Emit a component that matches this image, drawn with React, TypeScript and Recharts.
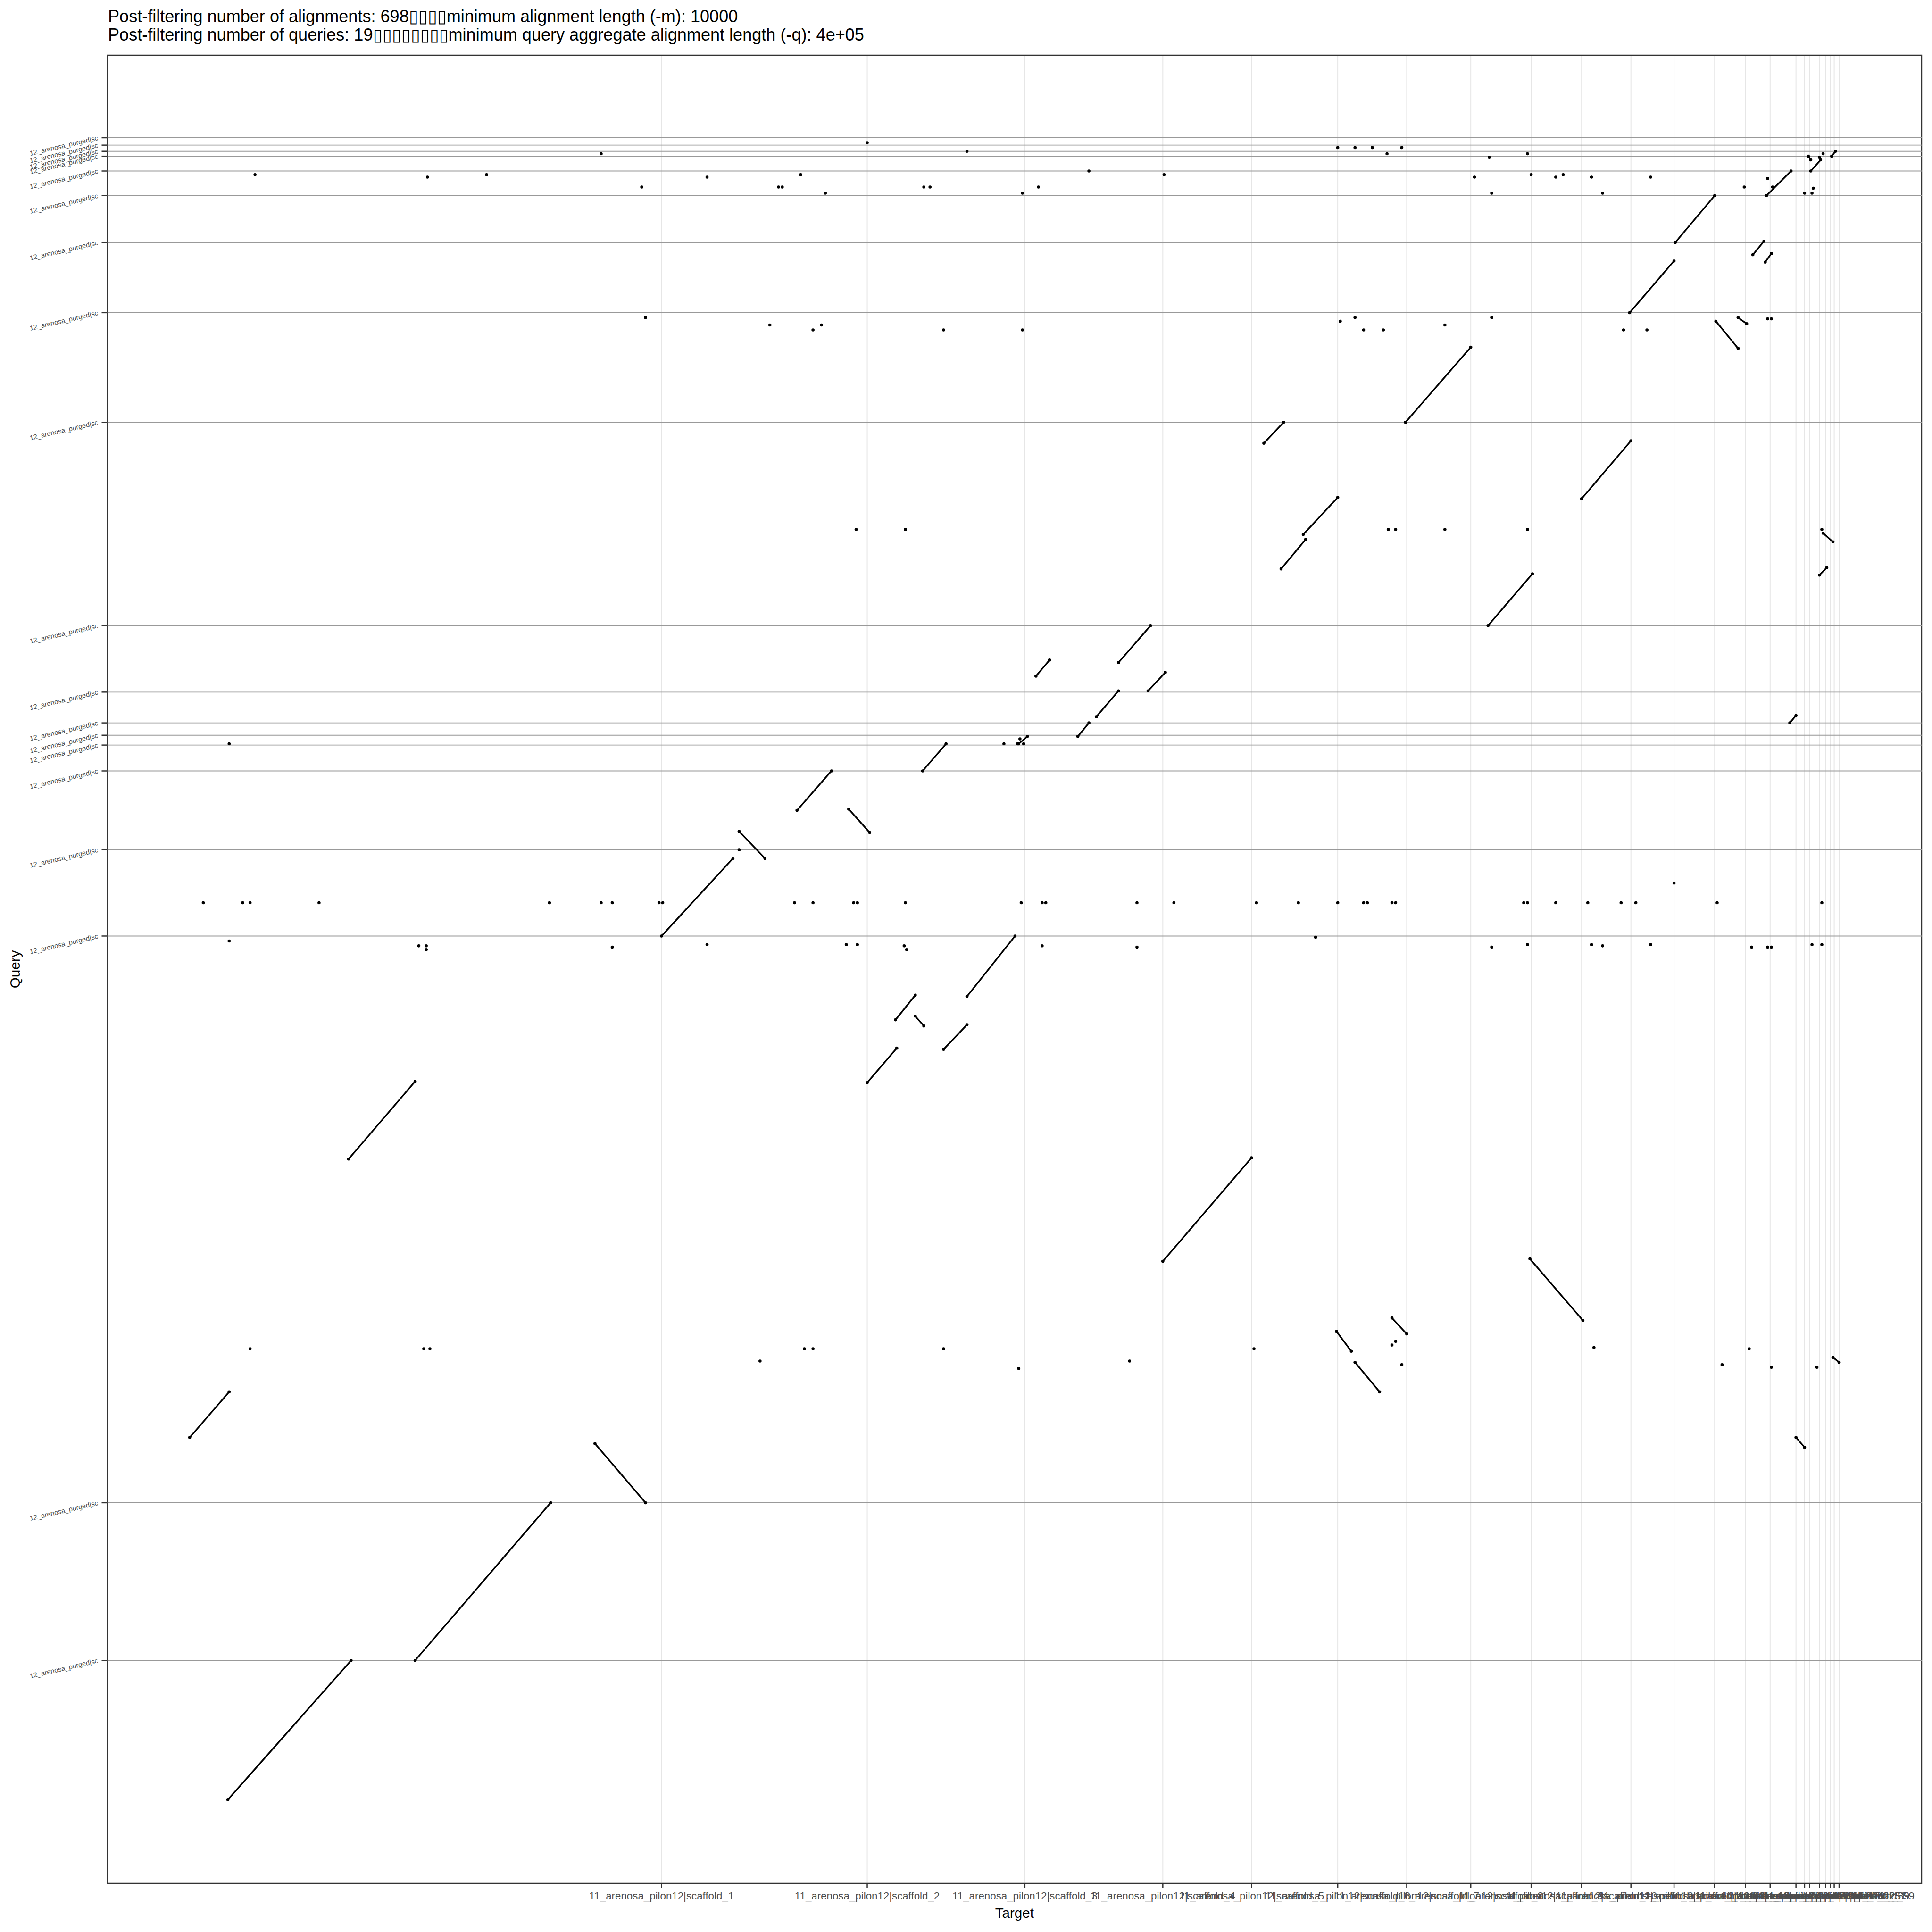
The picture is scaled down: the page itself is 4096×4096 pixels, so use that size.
import React from "react";
import {
  ComposedChart,
  Scatter,
  XAxis,
  YAxis,
  CartesianGrid,
  ReferenceLine,
  ReferenceArea,
} from "recharts";

// positions in Mb along the concatenated target (x) and query (y)
const xBreaks = [
  38.3, 55.0, 67.8, 79.0, 86.2, 93.2, 98.8, 104.0, 108.9, 113.0, 117.0, 120.5,
  123.8, 126.3, 128.3, 130.4, 131.1, 131.5, 132.3, 132.8, 133.2, 133.5, 133.9,
];
const xNames = [
  "1", "2", "3", "4", "5", "6", "7", "8", "9", "10", "11", "12", "13", "14",
  "15", "16", "17", "19", "22", "25", "31", "39", "59",
].map((n) => "11_arenosa_pilon12|scaffold_" + n);

const yBreaks = [
  11.3, 24.1, 70.1, 77.1, 83.5, 85.6, 86.4, 87.4, 89.9, 95.3, 111.8, 120.7,
  126.4, 130.2, 132.2, 133.4, 133.8, 134.3, 134.9,
];
const yNames = yBreaks.map(() => "12_arenosa_purged|sc");

// [targetStart, queryStart, targetEnd, queryEnd]
const alignments: [number, number, number, number][] = [
  [3.1, 0.0, 13.1, 11.3],
  [18.3, 11.3, 29.3, 24.1],
  [32.9, 28.9, 37.0, 24.1],
  [0.0, 29.4, 3.2, 33.1],
  [12.9, 52.0, 18.3, 58.3],
  [79.0, 43.7, 86.2, 52.1],
  [108.8, 43.9, 113.1, 38.9],
  [130.4, 29.4, 131.1, 28.6],
  [93.1, 38.0, 94.3, 36.4],
  [94.6, 35.5, 96.6, 33.1],
  [97.6, 39.1, 98.8, 37.8],
  [133.4, 35.9, 133.9, 35.5],
  [55.0, 58.2, 57.4, 61.0],
  [57.3, 63.3, 58.9, 65.3],
  [58.9, 63.6, 59.6, 62.8],
  [61.2, 60.9, 63.1, 62.9],
  [63.1, 65.2, 67.0, 70.1],
  [38.3, 70.1, 44.1, 76.4],
  [44.6, 78.6, 46.7, 76.4],
  [49.3, 80.3, 52.1, 83.5],
  [53.5, 80.4, 55.2, 78.5],
  [59.5, 83.5, 61.4, 85.7],
  [67.3, 85.7, 68.0, 86.3],
  [72.1, 86.3, 73.0, 87.4],
  [73.6, 87.9, 75.4, 90.0],
  [75.4, 92.3, 78.0, 95.3],
  [77.8, 90.0, 79.2, 91.5],
  [68.7, 91.2, 69.8, 92.5],
  [87.2, 110.1, 88.8, 111.8],
  [88.6, 99.9, 90.6, 102.3],
  [90.4, 102.7, 93.2, 105.7],
  [105.4, 95.3, 109.0, 99.5],
  [113.0, 105.6, 117.0, 110.3],
  [132.6, 102.8, 133.4, 102.1],
  [132.3, 99.4, 132.9, 100.0],
  [129.9, 87.4, 130.4, 88.0],
  [98.7, 111.8, 104.0, 117.9],
  [123.9, 120.0, 125.7, 117.8],
  [125.7, 120.3, 126.4, 119.8],
  [116.9, 120.7, 120.5, 124.9],
  [120.6, 126.4, 123.8, 130.2],
  [126.9, 125.4, 127.8, 126.5],
  [127.9, 124.8, 128.4, 125.5],
  [128.0, 130.2, 130.0, 132.2],
  [131.6, 132.2, 132.4, 133.1],
  [131.4, 133.4, 131.6, 133.1],
  [133.3, 133.4, 133.6, 133.8],
];

// short alignments that show up as dots, grouped by query band
const dotsQ24: [number, number][] = [
  [4.9, 36.6], [19.0, 36.6], [19.5, 36.6], [46.3, 35.6], [49.9, 36.6],
  [50.6, 36.6], [61.2, 36.6], [67.3, 35.0], [76.3, 35.6], [86.4, 36.6],
  [114.0, 36.7], [124.4, 35.3], [126.6, 36.6], [128.4, 35.1], [132.1, 35.1],
  [97.6, 36.9], [97.9, 37.2], [98.4, 35.3],
];
const dotsQ70: [number, number][] = [
  [3.2, 69.7], [18.6, 69.3], [19.2, 69.3], [19.2, 69.0], [34.3, 69.2],
  [42.0, 69.4], [53.3, 69.4], [54.2, 69.4], [58.0, 69.3], [58.2, 69.0],
  [69.2, 69.3], [76.9, 69.2], [91.4, 70.0], [105.7, 69.2], [108.6, 69.4],
  [113.8, 69.4], [114.7, 69.3], [118.6, 69.4], [126.8, 69.2], [128.1, 69.2],
  [128.4, 69.2], [131.7, 69.4], [132.5, 69.4],
];
const dotsQ77: [number, number][] = [
  [1.1, 72.8], [4.3, 72.8], [4.9, 72.8], [10.5, 72.8], [29.2, 72.8],
  [33.4, 72.8], [34.3, 72.8], [38.1, 72.8], [38.4, 72.8], [49.1, 72.8],
  [50.6, 72.8], [53.9, 72.8], [54.2, 72.8], [58.1, 72.8], [67.5, 72.8],
  [69.2, 72.8], [69.5, 72.8], [76.9, 72.8], [79.9, 72.8], [86.6, 72.8],
  [90.0, 72.8], [93.2, 72.8], [95.3, 72.8], [95.6, 72.8], [97.6, 72.8],
  [97.9, 72.8], [108.3, 72.8], [108.6, 72.8], [110.9, 72.8], [113.5, 72.8],
  [116.2, 72.8], [117.4, 72.8], [124.0, 72.8], [132.5, 72.8], [120.5, 74.4],
  [44.6, 77.1],
];
const dotsQ86: [number, number][] = [
  [3.2, 85.7], [66.1, 85.7], [67.2, 85.7], [67.7, 85.7], [67.4, 86.1],
];
const dotsQ111: [number, number][] = [
  [54.1, 103.1], [58.1, 103.1], [97.3, 103.1], [97.9, 103.1], [101.9, 103.1],
  [108.6, 103.1], [132.5, 103.1],
];
const dotsQ120: [number, number][] = [
  [37.0, 120.3], [47.1, 119.7], [50.6, 119.3], [51.3, 119.7], [61.2, 119.3],
  [67.6, 119.3], [93.4, 120.0], [94.6, 120.3], [95.3, 119.3], [96.9, 119.3],
  [101.9, 119.7], [105.7, 120.3], [116.4, 119.3], [118.3, 119.3],
  [128.1, 120.2], [128.4, 120.2],
];
const dotsQ132: [number, number][] = [
  [5.3, 131.9], [19.3, 131.7], [24.1, 131.9], [36.7, 130.9], [42.0, 131.7],
  [47.8, 130.9], [48.1, 130.9], [49.6, 131.9], [51.6, 130.4], [59.6, 130.9],
  [60.1, 130.9], [67.6, 130.4], [68.9, 130.9], [73.0, 132.2], [79.1, 131.9],
  [104.3, 131.7], [105.7, 130.4], [108.9, 131.9], [110.9, 131.7],
  [111.5, 131.9], [113.8, 131.7], [114.7, 130.4], [118.6, 131.7],
  [126.2, 130.9], [128.1, 131.6], [128.5, 130.9], [131.1, 130.4],
  [131.7, 130.4], [131.8, 130.8], [132.3, 133.3], [132.6, 133.6],
];
const dotsTop: [number, number][] = [
  [33.4, 133.6], [55.0, 134.5], [63.1, 133.8], [93.2, 134.1], [94.6, 134.1],
  [96.0, 134.1], [97.2, 133.6], [98.4, 134.1], [105.5, 133.3], [108.6, 133.6],
];

const X_DOMAIN: [number, number] = [-6.69, 140.6];
const Y_DOMAIN: [number, number] = [-6.8, 141.6];

const W = 4096;
const H = 4096;
const PLOT = { left: 227.5, right: 4074, top: 117, bottom: 3993 };
const FONT = '"Liberation Sans", Arial, Helvetica, sans-serif';

const title1 =
  "Post-filtering number of alignments: 698\u25AF\u25AF\u25AF\u25AFminimum alignment length (-m): 10000";
const title2 =
  "Post-filtering number of queries: 19\u25AF\u25AF\u25AF\u25AF\u25AF\u25AF\u25AF\u25AFminimum query aggregate alignment length (-q): 4e+05";

const dot = (p: any) => <circle cx={p.cx} cy={p.cy} r={3.3} fill="#000000" />;

const XTick = (p: any) => {
  const i = xBreaks.indexOf(p.payload.value);
  return (
    <text
      x={p.x}
      y={4027}
      textAnchor="middle"
      fontSize={22.3}
      fontFamily={FONT}
      fill="#4D4D4D"
    >
      {xNames[i]}
    </text>
  );
};

const YTick = (p: any) => {
  const i = yBreaks.indexOf(p.payload.value);
  const x = 207.5;
  return (
    <text
      x={x}
      y={p.y}
      transform={`rotate(-13 ${x} ${p.y})`}
      textAnchor="end"
      dominantBaseline="central"
      fontSize={14.5}
      fontFamily={FONT}
      fill="#4D4D4D"
    >
      {yNames[i]}
    </text>
  );
};

export default function App() {
  const allDots = [
    ...dotsQ24, ...dotsQ70, ...dotsQ77, ...dotsQ86,
    ...dotsQ111, ...dotsQ120, ...dotsQ132, ...dotsTop,
  ].map(([x, y]) => ({ x, y }));

  return (
    <div
      style={{
        position: "absolute",
        left: 0,
        top: 0,
        width: W,
        height: H,
        background: "#ffffff",
      }}
    >
      <ComposedChart
        width={W}
        height={H}
        margin={{ top: PLOT.top, right: W - PLOT.right, bottom: 0, left: 0 }}
      >
        <CartesianGrid horizontal={false} stroke="#E6E6E6" strokeWidth={2} />
        <XAxis
          type="number"
          dataKey="x"
          domain={X_DOMAIN}
          ticks={xBreaks}
          interval={0}
          allowDataOverflow
          height={H - PLOT.bottom}
          axisLine={false}
          tickLine={{ stroke: "#333333", strokeWidth: 2.5 }}
          tickSize={10}
          tick={XTick}
        />
        <YAxis
          type="number"
          dataKey="y"
          domain={Y_DOMAIN}
          ticks={yBreaks}
          interval={0}
          allowDataOverflow
          width={PLOT.left}
          axisLine={false}
          tickLine={{ stroke: "#333333", strokeWidth: 2.5 }}
          tickSize={12}
          tick={YTick}
        />
        {yBreaks.map((y) => (
          <ReferenceLine key={"h" + y} y={y} stroke="#999999" strokeWidth={1.9} />
        ))}
        {alignments.map((a, i) => (
          <Scatter
            key={"a" + i}
            data={[
              { x: a[0], y: a[1] },
              { x: a[2], y: a[3] },
            ]}
            line={{ stroke: "#000000", strokeWidth: 3.4 }}
            shape={dot}
            isAnimationActive={false}
          />
        ))}
        <Scatter data={allDots} shape={dot} isAnimationActive={false} />
        <ReferenceArea
          x1={X_DOMAIN[0]}
          x2={X_DOMAIN[1]}
          y1={Y_DOMAIN[0]}
          y2={Y_DOMAIN[1]}
          fill="none"
          stroke="#333333"
          strokeWidth={2.4}
          ifOverflow="visible"
        />
      </ComposedChart>
      <svg
        width={W}
        height={H}
        style={{ position: "absolute", left: 0, top: 0, pointerEvents: "none" }}
      >
        <text x={229} y={46.8} fontSize={36.1} fontFamily={FONT} fill="#000000">
          {title1}
        </text>
        <text x={229} y={85.9} fontSize={36.1} fontFamily={FONT} fill="#000000">
          {title2}
        </text>
        <text
          x={(PLOT.left + PLOT.right) / 2}
          y={4066}
          textAnchor="middle"
          fontSize={29.6}
          fontFamily={FONT}
          fill="#000000"
        >
          Target
        </text>
        <text
          x={42}
          y={(PLOT.top + PLOT.bottom) / 2}
          transform={`rotate(-90 42 ${(PLOT.top + PLOT.bottom) / 2})`}
          textAnchor="middle"
          fontSize={29.6}
          fontFamily={FONT}
          fill="#000000"
        >
          Query
        </text>
      </svg>
    </div>
  );
}
